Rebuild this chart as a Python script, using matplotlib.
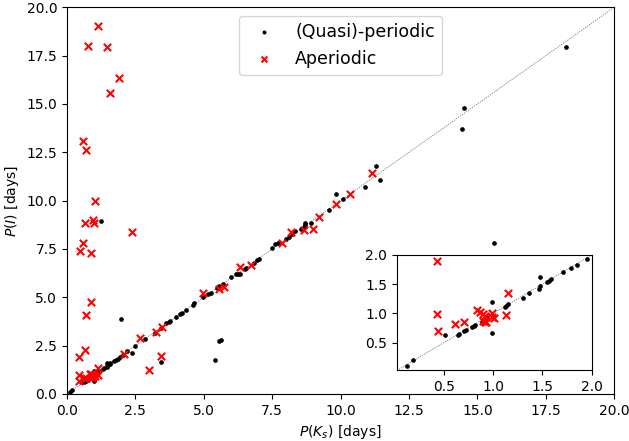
import numpy as np
import matplotlib
matplotlib.use("Agg")
import matplotlib.pyplot as plt

# (Quasi)-periodic stars: P(K_s) vs P(I), days
per_x = [0.12, 0.19, 0.51, 0.64, 0.65, 0.70, 0.72, 0.78, 0.80, 0.82, 0.89, 0.92,
         0.94, 0.99, 0.99, 1.12, 1.13, 1.15, 1.30, 1.36, 1.46, 1.47, 1.48, 1.55,
         1.57, 1.59, 1.71, 1.79, 1.85, 1.95, 2.05, 2.20, 2.38, 2.48, 2.84, 3.21,
         3.42, 3.63, 3.73, 3.78, 4.00, 4.14, 4.22, 4.34, 4.61, 4.63, 4.97, 5.15,
         5.27, 5.48, 5.55, 5.70, 6.00, 6.19, 6.25, 6.31, 6.49, 6.55, 6.85, 6.95,
         7.00, 7.50, 7.62, 7.70, 8.01, 8.13, 8.21, 8.34, 8.56, 8.65, 8.71, 8.71,
         8.92, 9.59, 9.83, 10.07, 10.89, 11.31, 11.45, 14.45, 14.52, 18.23,
         1.23, 1.97, 3.42, 5.40, 5.55, 5.64, 15.60]
per_y = [0.10, 0.20, 0.63, 0.63, 0.65, 0.69, 0.71, 0.77, 0.79, 0.80, 0.86, 0.90,
         0.93, 1.20, 0.67, 1.10, 1.13, 1.16, 1.27, 1.34, 1.42, 1.62, 1.47, 1.53,
         1.56, 1.58, 1.71, 1.78, 1.83, 1.93, 2.03, 2.20, 2.12, 2.48, 2.83, 3.17,
         3.40, 3.66, 3.74, 3.79, 3.97, 4.12, 4.20, 4.35, 4.60, 4.69, 5.03, 5.17,
         5.21, 5.47, 5.59, 5.67, 6.04, 6.19, 6.19, 6.20, 6.45, 6.52, 6.76, 6.93,
         6.98, 7.57, 7.76, 7.79, 8.00, 8.14, 8.26, 8.45, 8.52, 8.62, 8.74, 8.83,
         8.83, 9.52, 10.35, 10.09, 10.72, 11.80, 11.07, 13.69, 14.80, 17.97,
         8.95, 3.86, 1.66, 1.76, 2.76, 2.79, 7.80]

# Aperiodic stars
aper_x = [0.43, 0.43, 0.44, 0.61, 0.70, 0.84, 0.87, 0.90, 0.92, 0.90, 0.92, 0.93,
          0.99, 0.99, 1.01, 1.13, 1.15, 1.14, 0.77, 1.48, 1.91, 1.57, 0.58, 0.69,
          1.02, 0.66, 0.96, 1.00, 2.39, 0.57, 0.47, 0.86, 0.86, 0.68, 0.66, 2.08,
          2.66, 3.00, 3.45, 3.27, 3.48, 4.97, 5.56, 5.74, 6.34, 6.73, 7.85, 8.19,
          8.65, 8.98, 9.22, 9.83, 10.35, 11.15]
aper_y = [1.89, 0.98, 0.69, 0.81, 0.85, 1.05, 1.02, 0.99, 0.96, 0.87, 0.86, 0.85,
          1.00, 0.93, 0.92, 0.97, 1.34, 19.04, 18.02, 17.97, 16.35, 15.57, 13.09, 12.64,
          10.00, 8.83, 9.00, 8.83, 8.36, 7.83, 7.41, 7.27, 4.76, 4.10, 2.28, 2.07,
          2.90, 1.24, 1.95, 3.22, 3.48, 5.24, 5.42, 5.53, 6.59, 6.67, 7.79, 8.40,
          8.48, 8.52, 9.17, 9.81, 10.35, 11.45]

diag = [0, 20]

fig = plt.figure(figsize=(6.29, 4.41), dpi=100)
ax = fig.add_axes([0.1065, 0.1066, 0.870, 0.8769])


def draw(a):
    a.plot(diag, diag, color="dimgray", linestyle="--", linewidth=0.5,
           dashes=(2, 1.5), zorder=1)
    a.scatter(per_x, per_y, marker=".", s=22, color="black", zorder=2,
              label="(Quasi)-periodic")
    a.scatter(aper_x, aper_y, marker="x", s=28, linewidths=1.5, color="red",
              zorder=3, label="Aperiodic")


draw(ax)
ax.set_xlim(0, 20)
ax.set_ylim(0, 20)
ax.set_xlabel("$P(K_s)$ [days]")
ax.set_ylabel("$P(I)$ [days]")
ax.legend(loc="upper center", fontsize=12.5, markerscale=0.8)

# inset zoom on short periods
axin = fig.add_axes([0.6307, 0.161, 0.310, 0.261])
draw(axin)
axin.set_xlim(0.02, 2.0)
axin.set_ylim(0.03, 2.0)
axin.set_xticks([0.5, 1.0, 1.5, 2.0])
axin.set_yticks([0.5, 1.0, 1.5, 2.0])

fig.savefig("out.png", dpi=100)
